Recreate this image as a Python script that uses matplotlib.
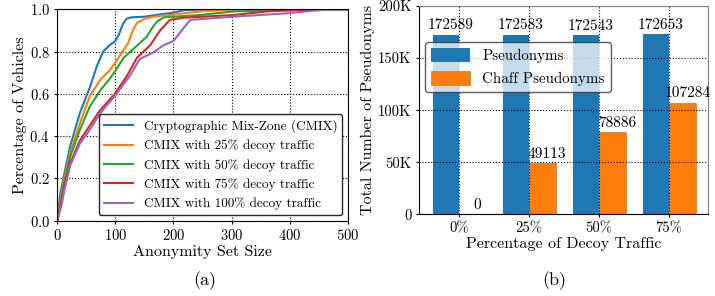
import numpy as np
from matplotlib import pyplot as plt

plt.rcParams['font.family'] = ['cmr10', 'DejaVu Serif']
plt.rcParams['axes.formatter.use_mathtext'] = True
plt.rcParams['mathtext.fontset'] = 'cm'

# CDF curves (anonymity set size vs. fraction of vehicles)
cmix_x = [0, 3, 6, 12, 22, 39, 56, 68, 79, 90, 99, 106, 113, 119, 128, 150, 175, 200, 217, 250, 500]
cmix_y = [0, 0.08, 0.14, 0.22, 0.35, 0.51, 0.63, 0.73, 0.80, 0.83, 0.847, 0.88, 0.93, 0.955, 0.962, 0.965, 0.975, 0.984, 0.995, 1.0, 1.0]

d25_x = [0, 3, 7, 12, 22, 39, 56, 75, 90, 99, 110, 122, 130, 137, 150, 165, 200, 246, 303, 500]
d25_y = [0, 0.06, 0.12, 0.2, 0.32, 0.46, 0.59, 0.67, 0.71, 0.744, 0.79, 0.84, 0.9, 0.935, 0.955, 0.965, 0.975, 0.99, 1.0, 1.0]

d50_x = [0, 3, 7, 12, 22, 39, 56, 75, 90, 99, 114, 130, 142, 154, 163, 171, 183, 246, 303, 390, 440, 500]
d50_y = [0, 0.05, 0.1, 0.18, 0.30, 0.43, 0.54, 0.62, 0.67, 0.705, 0.77, 0.81, 0.84, 0.87, 0.91, 0.94, 0.962, 0.973, 0.99, 0.997, 1.0, 1.0]

d75_x = [0, 3, 7, 12, 22, 39, 56, 73, 99, 120, 137, 160, 177, 194, 217, 303, 361, 418, 460, 500]
d75_y = [0, 0.04, 0.09, 0.16, 0.27, 0.38, 0.45, 0.52, 0.60, 0.685, 0.77, 0.83, 0.90, 0.95, 0.96, 0.973, 0.99, 0.997, 1.0, 1.0]

d100_x = [0, 3, 7, 12, 22, 39, 56, 73, 99, 125, 142, 165, 183, 200, 217, 229, 303, 390, 447, 476, 500]
d100_y = [0, 0.03, 0.07, 0.14, 0.26, 0.365, 0.43, 0.505, 0.59, 0.685, 0.765, 0.795, 0.83, 0.85, 0.91, 0.95, 0.965, 0.98, 0.995, 1.0, 1.0]

curve_labels = ['Cryptographic Mix-Zone (CMIX)', 'CMIX with 25% decoy traffic',
                'CMIX with 50% decoy traffic', 'CMIX with 75% decoy traffic',
                'CMIX with 100% decoy traffic']

# Bar chart data
decoy = ['0%', '25%', '50%', '75%']
pseudonyms = [172589, 172583, 172543, 172653]
chaff = [0, 49113, 78886, 107284]

fig = plt.figure(figsize=(7.15, 2.96), dpi=100)

# ---- (a) ----
ax1 = fig.add_axes([0.0801, 0.2544, 0.4062, 0.7142])
curves = [(cmix_x, cmix_y), (d25_x, d25_y), (d50_x, d50_y), (d75_x, d75_y), (d100_x, d100_y)]
colors = ['#1f77b4', '#ff7f0e', '#2ca02c', '#d62728', '#9467bd']
for (cx, cy), c, lab in zip(curves, colors, curve_labels):
    ax1.plot(cx, cy, color=c, lw=1.5, label=lab)
ax1.set_xlim(0, 500)
ax1.set_ylim(0, 1.0)
ax1.set_xticks([0, 100, 200, 300, 400, 500])
ax1.set_yticks([0, 0.2, 0.4, 0.6, 0.8, 1.0])
ax1.grid(True, color='k', linestyle=':', linewidth=0.8)
ax1.tick_params(labelsize=10.5, length=2)
ax1.set_xlabel('Anonymity Set Size', fontsize=11.5, labelpad=1)
ax1.set_ylabel('Percentage of Vehicles', fontsize=11.5, labelpad=2)
ax1.legend(loc='lower right', fontsize=9.5, framealpha=1, edgecolor='0.15',
           handlelength=2.2, borderaxespad=0.4, labelspacing=0.5)

# ---- (b) ----
ax2 = fig.add_axes([0.5864, 0.276, 0.4042, 0.7037])
x = np.arange(len(decoy))
w = 0.38
b1 = ax2.bar(x - w / 2, pseudonyms, width=w, color='#1f77b4', label='Pseudonyms')
b2 = ax2.bar(x + w / 2, chaff, width=w, color='#ff7f0e', label='Chaff Pseudonyms',
             edgecolor='#c8620a', linewidth=0.4)
for bars in (b1, b2):
    for r in bars:
        h = r.get_height()
        ax2.annotate('%d' % h, (r.get_x() + r.get_width() / 2, h),
                     xytext=(3.5, 1.5), textcoords='offset points',
                     ha='center', va='bottom', fontsize=11)
ax2.set_xlim(-0.57, 3.56)
ax2.set_ylim(0, 200000)
ax2.set_xticks(x)
ax2.set_xticklabels(decoy)
ax2.set_yticks([0, 50000, 100000, 150000, 200000])
ax2.set_yticklabels(['0', '50K', '100K', '150K', '200K'])
ax2.grid(True, color='k', linestyle=':', linewidth=0.8)
ax2.tick_params(labelsize=10.5, length=2)
for s in ('top', 'right'):
    ax2.spines[s].set_color('0.5')
ax2.set_xlabel('Percentage of Decoy Traffic', fontsize=11.5, labelpad=1)
ax2.set_ylabel('Total Number of Pseudonyms', fontsize=11.5, labelpad=2)
ax2.legend(loc='upper left', bbox_to_anchor=(0, 0.855), fontsize=10.8, framealpha=0.75,
           edgecolor='0.15', handlelength=2.6, handleheight=1.0, borderaxespad=0.4,
           labelspacing=0.55)

fig.text(0.287, 0.035, '(a)', fontsize=13, ha='center')
fig.text(0.775, 0.035, '(b)', fontsize=13, ha='center')

fig.savefig('out.png', dpi=100)
